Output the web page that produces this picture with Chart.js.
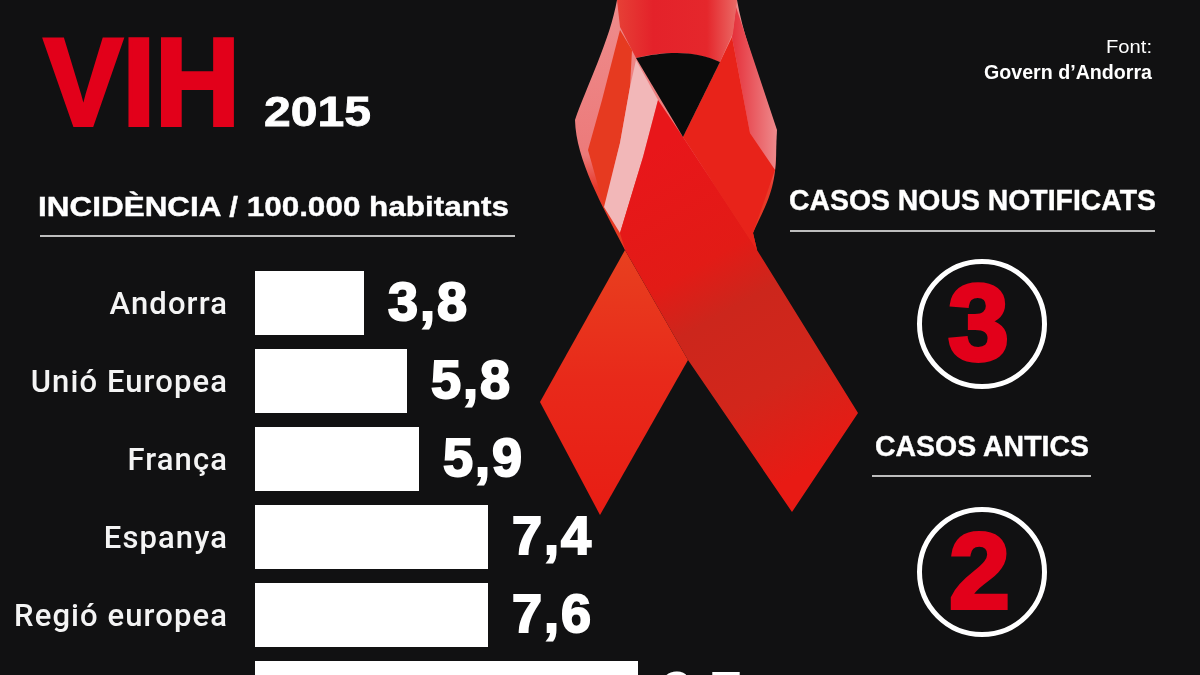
<!DOCTYPE html>
<html>
<head>
<meta charset="utf-8">
<script src="https://cdn.jsdelivr.net/npm/chart.js@4"></script>
<style>
  html, body { margin: 0; padding: 0; width: 1200px; height: 675px; overflow: hidden; background: #111112; }
  #marc { position: absolute; left: 0; top: 0; width: 1200px; height: 732px; }
  #cinta { position: absolute; left: 0; top: 0; }
  .txt { position: absolute; white-space: nowrap; line-height: 1; color: #fff; font-family: "Liberation Sans", sans-serif; font-weight: bold; transform-origin: 0 0; }
  .ratlla { position: absolute; height: 2px; background: #bdbdbd; }
  .cercle { position: absolute; width: 120px; height: 120px; border: 5px solid #fff; border-radius: 50%; }
</style>
</head>
<body>
<svg id="cinta" width="1200" height="675">
  <defs>
    <linearGradient id="cuaEsq" x1="0" y1="0" x2="0" y2="1"><stop offset="0" stop-color="#e8401f"/><stop offset="0.5" stop-color="#e8291a"/><stop offset="1" stop-color="#e81d14"/></linearGradient>
    <linearGradient id="cap" gradientUnits="userSpaceOnUse" x1="650" y1="150" x2="825" y2="460"><stop offset="0" stop-color="#e8161a"/><stop offset="0.35" stop-color="#e21b16"/><stop offset="0.5" stop-color="#cc261c"/><stop offset="0.75" stop-color="#d2261b"/><stop offset="1" stop-color="#e81a14"/></linearGradient>
    <linearGradient id="dalt" x1="0" y1="0" x2="1" y2="0"><stop offset="0" stop-color="#e64036"/><stop offset="0.3" stop-color="#e4222a"/><stop offset="0.75" stop-color="#e5272c"/><stop offset="1" stop-color="#ea6a66"/></linearGradient>
    <linearGradient id="vora" x1="0" y1="0" x2="0" y2="1"><stop offset="0" stop-color="#ee8c8c"/><stop offset="0.62" stop-color="#ec7a7a"/><stop offset="0.75" stop-color="#e8392a"/><stop offset="1" stop-color="#e63a20"/></linearGradient>
    <linearGradient id="voraDre" x1="1" y1="0" x2="0" y2="0"><stop offset="0" stop-color="#ee8a8c"/><stop offset="1" stop-color="#e5303a"/></linearGradient>
  </defs>
  <!-- cues -->
  <polygon points="625,250 540,402 600,515 688,360" fill="url(#cuaEsq)"/>
  <!-- llac -->
  <path d="M617,0 C610,40 586,88 575,120 C576,160 602,205 625,250 L757,250 L753,233 C765,205 778,190 776,140 C765,90 745,45 737,0 Z" fill="url(#vora)"/>
  <path d="M620,30 L632,50 L630,87 L620,143 L604,207 L588,150 L602,100 Z" fill="#e63a20"/>
  <path d="M736,7 L777,130 L775,170 L750,133 L732,37 Z" fill="url(#voraDre)"/>
  <polygon points="720,62 683,137 757,250 753,233 775,170 750,133 732,37" fill="#e8231a"/>
  <path d="M636,60 L658,100 L643,157 L620,233 L604,207 L620,143 L630,87 Z" fill="#f2b7b8"/>
  <polygon points="658,100 683,137 757,250 858,413 792,512 688,360 625,250 620,233 643,157" fill="url(#cap)"/>
  <path d="M617,0 L737,0 L733,33 L720,62 C705,56 690,53 677,53 C660,53 648,55 636,58 L620,27 Z" fill="url(#dalt)"/>
  <path d="M636,58 C650,55 662,53 677,53 C692,53 707,56 720,62 L683,137 Z" fill="#0b0b0b"/>
</svg>
<div id="marc"><canvas id="grafic"></canvas></div>

<div class="txt" data-x="44" data-y="20" data-w="196" style="font-size:124px;color:#e2001a;-webkit-text-stroke:4px #e2001a">VIH</div>
<div class="txt" data-x="264" data-y="90" data-w="107" style="font-size:43px;-webkit-text-stroke:.8px #fff">2015</div>
<div class="txt" data-x="38" data-y="193" data-w="471" style="font-size:28px;-webkit-text-stroke:.4px #fff">INCIDÈNCIA / 100.000 habitants</div>
<div class="ratlla" style="left:40px;top:235px;width:475px"></div>
<div class="txt" data-x="1106" data-y="37" data-w="46" style="font-size:19px;font-weight:normal">Font:</div>
<div class="txt" data-x="984" data-y="62" data-w="168" style="font-size:20px">Govern d’Andorra</div>
<div class="txt" data-x="789" data-y="186" data-w="367" style="font-size:29px;-webkit-text-stroke:.4px #fff">CASOS NOUS NOTIFICATS</div>
<div class="ratlla" style="left:790px;top:230px;width:365px"></div>
<div class="txt" data-x="875" data-y="432" data-w="214" style="font-size:29px;-webkit-text-stroke:.4px #fff">CASOS ANTICS</div>
<div class="ratlla" style="left:872px;top:475px;width:219px"></div>
<div class="cercle" style="left:917px;top:259px"></div>
<div class="cercle" style="left:917px;top:507px"></div>
<div class="txt" id="numNous" data-x="948" data-y="269" data-w="61" style="font-size:108px;color:#e2001a;-webkit-text-stroke:4px #e2001a"></div>
<div class="txt" id="numAntics" data-x="949" data-y="517" data-w="61" style="font-size:108px;color:#e2001a;-webkit-text-stroke:4px #e2001a"></div>

<script>
// Dades llegides de la imatge
const paisos = ["Andorra", "Unió Europea", "França", "Espanya", "Regió europea", ""]; // l'últim nom queda fora de la imatge
const valors = ["3,8", "5,8", "5,9", "7,4", "7,6", "9,7"]; // l'últim només es veu la part de dalt
// llargada de les barres tal com estan dibuixades (no segueix del tot el valor imprès)
const barres = [109, 152, 164, 233, 233, 383];
const casosNous = 3;
const casosAntics = 2;

document.getElementById("numNous").textContent = casosNous;
document.getElementById("numAntics").textContent = casosAntics;

// etiquetes de valor al final de cada barra
const etiquetes = {
  id: "etiquetes",
  beforeDraw(chart) {
    chart.ctx.letterSpacing = "1.1px";
  },
  afterDatasetsDraw(chart) {
    const ctx = chart.ctx;
    ctx.save();
    ctx.letterSpacing = "2px";
    ctx.fillStyle = "#fff";
    ctx.strokeStyle = "#fff";
    ctx.lineWidth = 2;
    ctx.font = "bold 54px 'Liberation Sans'";
    ctx.textBaseline = "middle";
    chart.getDatasetMeta(0).data.forEach((barra, i) => {
      ctx.fillText(valors[i], barra.x + 24, barra.y + 2);
      ctx.strokeText(valors[i], barra.x + 24, barra.y + 2);
    });
    ctx.restore();
  }
};

new Chart(document.getElementById("grafic"), {
  type: "bar",
  data: {
    labels: paisos,
    datasets: [{
      data: barres,
      backgroundColor: "#ffffff",
      barPercentage: 0.82,
      categoryPercentage: 1
    }]
  },
  plugins: [etiquetes],
  options: {
    indexAxis: "y",
    responsive: true,
    maintainAspectRatio: false,
    animation: false,
    layout: { padding: { top: 264 } },
    plugins: { legend: { display: false }, tooltip: { enabled: false } },
    scales: {
      x: { display: false, min: 0, max: 945 },
      y: {
        afterFit: (eix) => {
          eix.width = 255;
          // el padding de les etiquetes no ha de retallar l'alçada de les files
          eix.paddingTop = 0;
          eix.paddingBottom = 0;
        },
        grid: { display: false, drawTicks: false },
        border: { display: false },
        ticks: {
          color: "#f4f4f4",
          padding: 27,
          labelOffset: 3,
          autoSkip: false,
          font: { family: "Roboto", size: 31, weight: "500" }
        }
      }
    }
  }
});

// col·loca els textos i els ajusta a l'amplada mesurada
document.querySelectorAll(".txt").forEach((el) => {
  const w = el.getBoundingClientRect().width;
  el.style.left = el.dataset.x + "px";
  el.style.top = el.dataset.y + "px";
  el.style.transform = "scaleX(" + (el.dataset.w / w) + ")";
});
</script>
</body>
</html>
